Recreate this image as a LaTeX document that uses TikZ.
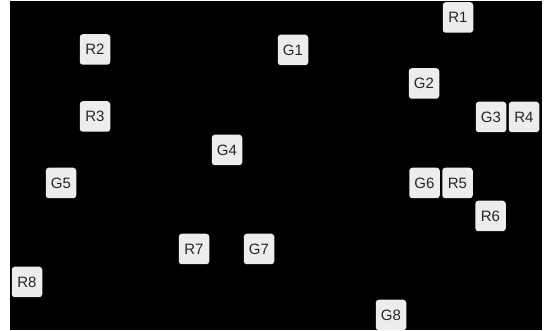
\documentclass[tikz,border=0pt]{standalone}
\usepackage{fontspec}
\setmainfont{Liberation Sans}
\begin{document}
\begin{tikzpicture}[x=1pt,y=-1pt,
  cell/.style={fill=boxgray,rounded corners=3pt,minimum width=30.5pt,minimum height=30.5pt,inner sep=0pt,font=\fontsize{15}{15}\selectfont,text=black!85}]
\definecolor{boxgray}{HTML}{EDEDED}
\useasboundingbox (0,0) rectangle (550,331);
\fill[white] (0,0) rectangle (550,331);
\fill[black] (10,1) rectangle (541.5,330);
\node[cell] (R1) at (458,17.5) {R1};
\node[cell] (R2) at (95,49.5) {R2};
\node[cell] (G1) at (293,50) {G1};
\node[cell] (G2) at (424,83.5) {G2};
\node[cell] (R3) at (95,116.5) {R3};
\node[cell] (G3) at (491,117) {G3};
\node[cell] (R4) at (524,117) {R4};
\node[cell] (G4) at (227,150) {G4};
\node[cell] (G5) at (61,183) {G5};
\node[cell] (G6) at (424.5,183) {G6};
\node[cell] (R5) at (457.5,183) {R5};
\node[cell] (R6) at (490.5,216) {R6};
\node[cell] (R7) at (194,249) {R7};
\node[cell] (G7) at (259,249) {G7};
\node[cell] (R8) at (27,282) {R8};
\node[cell] (G8) at (391,315) {G8};
\end{tikzpicture}
\end{document}
